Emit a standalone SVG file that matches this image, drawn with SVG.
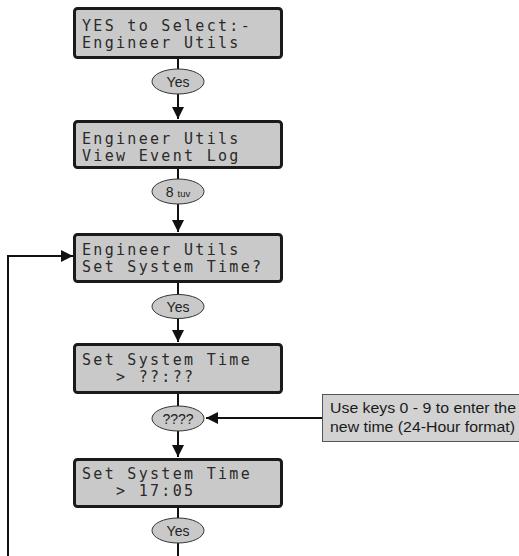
<svg xmlns="http://www.w3.org/2000/svg" width="519" height="556" viewBox="0 0 519 556">
<style>
.lcd{fill:#c9c9c9;stroke:#1a1a1a;stroke-width:3}
.lt{font-family:"DejaVu Sans Mono","Liberation Mono",monospace;font-size:15px;letter-spacing:2.3px;fill:#2a2a2a;white-space:pre}
.key{fill:#c9c9c9;stroke:#333;stroke-width:1}
.kt{font-family:"Liberation Sans",Arial,sans-serif;font-size:14px;fill:#222;text-anchor:middle}
.ln{stroke:#111;stroke-width:2;fill:none}
.note{fill:#d2d2d2;stroke:#555;stroke-width:1}
.nt{font-family:"Liberation Sans",Arial,sans-serif;font-size:14px;fill:#1a1a1a}
</style>
<defs>
<marker id="ah" markerWidth="12" markerHeight="12" refX="12" refY="6" orient="auto" markerUnits="userSpaceOnUse">
<path d="M0,0 L12,6 L0,12 Z" fill="#111"/>
</marker>
</defs>
<g id="connectors">
<line class="ln" x1="178" y1="58" x2="178" y2="69"/>
<line class="ln" x1="178" y1="94" x2="178" y2="119" marker-end="url(#ah)"/>
<line class="ln" x1="178" y1="168" x2="178" y2="179"/>
<line class="ln" x1="178" y1="204" x2="178" y2="232" marker-end="url(#ah)"/>
<line class="ln" x1="178" y1="282" x2="178" y2="295"/>
<line class="ln" x1="178" y1="318" x2="178" y2="342" marker-end="url(#ah)"/>
<line class="ln" x1="178" y1="393" x2="178" y2="406"/>
<line class="ln" x1="178" y1="431" x2="178" y2="457" marker-end="url(#ah)"/>
<line class="ln" x1="178" y1="507" x2="178" y2="518"/>
<line class="ln" x1="178" y1="543" x2="178" y2="556"/>
<polyline class="ln" stroke-width="1.5" points="8,556 8,256 73,256" marker-end="url(#ah)"/>
<line class="ln" x1="322" y1="418" x2="206" y2="418" marker-end="url(#ah)"/>
</g>
<g id="box1">
<rect class="lcd" x="74.5" y="8.5" width="207" height="49" rx="3"/>
<text class="lt" x="82" y="31">YES to Select:-</text>
<text class="lt" x="82" y="48">Engineer Utils</text>
</g>
<g id="key1">
<ellipse class="key" cx="178" cy="81.5" rx="26" ry="12.5"/>
<text class="kt" x="178" y="86.5">Yes</text>
</g>
<g id="box2">
<rect class="lcd" x="74.5" y="121.5" width="207" height="46" rx="3"/>
<text class="lt" x="82" y="144">Engineer Utils</text>
<text class="lt" x="82" y="161">View Event Log</text>
</g>
<g id="key2">
<ellipse class="key" cx="178" cy="191.5" rx="26" ry="12.5"/>
<text class="kt" x="178" y="196.5"><tspan>8 </tspan><tspan font-size="9.5">tuv</tspan></text>
</g>
<g id="box3">
<rect class="lcd" x="74.5" y="234.5" width="207" height="47" rx="3"/>
<text class="lt" x="82" y="255">Engineer Utils</text>
<text class="lt" x="82" y="272">Set System Time?</text>
</g>
<g id="key3">
<ellipse class="key" cx="178" cy="306.5" rx="26" ry="12"/>
<text class="kt" x="178" y="311.5">Yes</text>
</g>
<g id="box4">
<rect class="lcd" x="74.5" y="344.5" width="207" height="48" rx="3"/>
<text class="lt" x="82" y="365">Set System Time</text>
<text class="lt" x="82" y="382">   &gt; ??:??</text>
</g>
<g id="key4">
<ellipse class="key" cx="178" cy="418.5" rx="26" ry="12.5"/>
<text class="kt" x="178" y="423.5">????</text>
</g>
<g id="box5">
<rect class="lcd" x="74.5" y="459.5" width="207" height="47" rx="3"/>
<text class="lt" x="82" y="479">Set System Time</text>
<text class="lt" x="82" y="496">   &gt; 17:05</text>
</g>
<g id="key5">
<ellipse class="key" cx="178" cy="530.5" rx="26" ry="12.5"/>
<text class="kt" x="178" y="535.5">Yes</text>
</g>
<g id="note">
<rect class="note" x="322.5" y="394.5" width="205" height="47"/>
<text class="nt" x="330" y="413" textLength="186" lengthAdjust="spacingAndGlyphs">Use keys 0 - 9 to enter the</text>
<text class="nt" x="330" y="432" textLength="185" lengthAdjust="spacingAndGlyphs">new time (24-Hour format)</text>
</g>
</svg>
